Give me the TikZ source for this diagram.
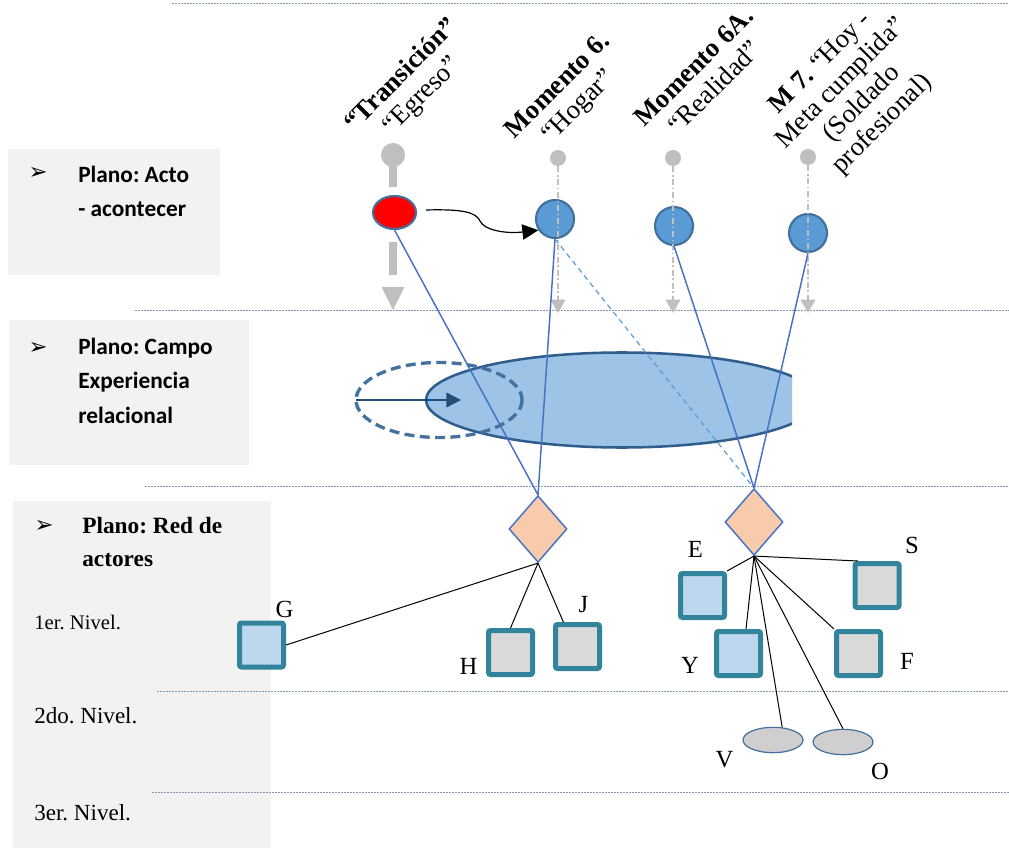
\documentclass[tikz,border=0pt]{standalone}
\usepackage{fontspec}
\setmainfont{Liberation Serif}
\newfontfamily\calib{Carlito}
\newfontfamily\djv{DejaVu Sans}
\usetikzlibrary{shapes.geometric,arrows.meta,calc}
\definecolor{panelgray}{HTML}{F2F2F2}
\definecolor{hl}{HTML}{8497B0}
\definecolor{pingray}{HTML}{BFBFBF}
\definecolor{circfill}{HTML}{5B9BD5}
\definecolor{circdraw}{HTML}{41719C}
\definecolor{bigfill}{HTML}{9DC3E6}
\definecolor{bigdraw}{HTML}{2F5E8E}
\definecolor{dashdraw}{HTML}{44729F}
\definecolor{arrowblue}{HTML}{1F4E79}
\definecolor{blineC}{HTML}{4472C4}
\definecolor{bdashC}{HTML}{5B9BD5}
\definecolor{diamfill}{HTML}{F8CBAD}
\definecolor{sqborder}{HTML}{31849B}
\definecolor{sqlight}{HTML}{BDD7EE}
\definecolor{sqgray}{HTML}{D9D9D9}
\definecolor{ellgray}{HTML}{D0CECE}
\frenchspacing
\begin{document}
\begin{tikzpicture}[x=0.75pt,y=-0.75pt,
  hline/.style={draw=hl, line width=0.7pt, dash pattern=on 1.5pt off 0.75pt},
  ptxt/.style={anchor=base west, inner sep=0, font=\calib\bfseries\fontsize{17.5}{21}\selectfont},
  ttxt/.style={anchor=base west, inner sep=0, font=\bfseries\fontsize{17.5}{21}\selectfont},
  ntxt/.style={anchor=base west, inner sep=0, font=\fontsize{17.3}{21}\selectfont},
  bul/.style={inner sep=0, font=\djv\fontsize{17}{19}\selectfont},
  toplbl/.style={rotate=45, align=center, inner sep=0, font=\fontsize{20}{21.75}\selectfont},
  pinbig/.style={circle, fill=pingray, minimum size=18pt, inner sep=0},
  pinsmall/.style={circle, fill=pingray, minimum size=12pt, inner sep=0},
  pinline/.style={draw=pingray, line width=1.1pt, dash pattern=on 4.5pt off 2pt on 1.2pt off 2pt},
  pintip/.style={-{Triangle[length=10pt,width=11pt]}},
  bcirc/.style={circle, fill=circfill, draw=circdraw, line width=1.6pt, minimum size=28.5pt, inner sep=0},
  diam/.style={diamond, fill=diamfill, draw=blineC, line width=1.1pt, minimum width=43.5pt, minimum height=50pt, inner sep=0},
  sq/.style={rectangle, draw=sqborder, line width=3.75pt, minimum size=33pt, rounded corners=1.5pt, inner sep=0},
  sell/.style={ellipse, fill=ellgray, draw=circdraw, line width=0.9pt, minimum width=45pt, minimum height=19pt, inner sep=0},
  bline/.style={draw=blineC, line width=1.1pt},
  bdash/.style={draw=bdashC, line width=0.9pt, dash pattern=on 4pt off 3pt},
  kline/.style={draw=black, line width=0.75pt},
  lbl/.style={inner sep=0, font=\fontsize{18.5}{20}\selectfont}
]
\useasboundingbox (0,0) rectangle (1009,848);

% panels
\fill[panelgray] (8,149) rectangle (220,275);
\fill[panelgray] (9,320) rectangle (249,465);
\fill[panelgray] (13,501) rectangle (271,848);

% horizontal separators
\draw[hline] (172,3) -- (1009,3);
\draw[hline] (135,310) -- (1009,310);
\draw[hline] (145,486) -- (1009,486);
\draw[hline] (157,691) -- (1009,691);
\draw[hline] (152,792) -- (1009,792);

% panel texts
\node[bul] (b1) at (38,173) {➢};
\node[ptxt] (p1a) at (78,183) {Plano: Acto};
\node[ptxt] (p1b) at (78,217) {- acontecer};
\node[bul] (b2) at (38,348) {➢};
\node[ptxt] (p2a) at (78,354) {Plano: Campo};
\node[ptxt] (p2b) at (78,388) {Experiencia};
\node[ptxt] (p2c) at (78,423) {relacional};
\node[bul] (b3) at (44,526) {➢};
\node[ttxt] (p3a) at (82,533) {Plano: Red de};
\node[ttxt] (p3b) at (82,566) {actores};
\node[ntxt, font=\fontsize{15.5}{19}\selectfont] (n1) at (34,629) {1er. Nivel.};
\node[ntxt] (n2) at (34,723) {2do. Nivel.};
\node[ntxt] (n3) at (34,820) {3er. Nivel.};

% top labels
\node[toplbl] (t0) at (412,86) {\textbf{“Transición”}\\“Egreso”};
\node[toplbl] (t1) at (569,97) {\textbf{Momento 6.}\\“Hogar”};
\node[toplbl] (t2) at (704,77) {\textbf{Momento 6A.}\\“Realidad”};
\node[toplbl] (t3) at (852,94) {\textbf{M 7.} “Hoy -\\Meta cumplida”\\(Soldado\\profesional)};

% big ellipse (clipped)
\begin{scope}
\clip (300,340) rectangle (792,460);
\draw[fill=bigfill, draw=bigdraw, line width=1.9pt] (622,400) ellipse [x radius=196, y radius=47.5];
\end{scope}
\draw[draw=dashdraw, line width=2.5pt, dash pattern=on 7.5pt off 4pt] (439,400) ellipse [x radius=83, y radius=37.5];
\coordinate (ia) at (356,400);
\coordinate (ib) at (461,400);
\draw[draw=arrowblue, line width=1pt, -{Triangle[length=11pt,width=11pt]}] (ia) -- (ib);

% Transicion pin
\node[pinbig] (pin0) at (393,155) {};
\coordinate (s0a) at (393,164);
\coordinate (s0b) at (393,187);
\draw[pingray, line width=6pt] (s0a) -- (s0b);
\coordinate (s0c) at (393,242);
\coordinate (s0d) at (393,275);
\draw[pingray, line width=6pt] (s0c) -- (s0d);
\fill[pingray] (381.5,287) -- (404.5,287) -- (393,310) -- cycle;

% act circles
\node[ellipse, fill=red, draw=circdraw, line width=1.6pt, minimum width=32.25pt, minimum height=24.75pt, inner sep=0] (red) at (394.5,212.5) {};
\node[bcirc] (c1) at (555,219) {};
\node[bcirc] (c2) at (674,226) {};
\node[bcirc] (c3) at (808,233) {};

% small pins and dash-dot arrows
\node[pinsmall] (pin1) at (558,158) {};
\node[pinsmall] (pin2) at (673,158) {};
\node[pinsmall] (pin3) at (808,157) {};
\coordinate (e1) at (558,313);
\coordinate (e2) at (673,313);
\coordinate (e3) at (808,313);
\draw[pinline, pintip] (pin1) -- (e1);
\draw[pinline, pintip] (pin2) -- (e2);
\draw[pinline, pintip] (pin3) -- (e3);

% curved arrow
\coordinate (as) at (426,210);
\draw[line width=0.9pt, -{Triangle[length=12pt,width=11.5pt]}] (as) .. controls (462,209) and (476,212) .. (480,221) .. controls (484,230) and (505,234) .. (c1.214);

% diamonds
\node[diam] (d1) at (538,529) {};
\node[diam] (d2) at (754,522) {};

% blue connectors
\draw[bline] (red.south) -- (d1.north);
\draw[bline] (c1.south) -- (d1.north);
\draw[bdash] (c1.south) -- (d2.north);
\draw[bline] (c2.south) -- (d2.north);
\draw[bline] (c3.south) -- (d2.north);

% actor nodes
\node[sq, fill=sqlight] (G) at (261.5,645) {};
\node[sq, fill=sqgray] (H) at (510.5,652.5) {};
\node[sq, fill=sqgray] (J) at (577.5,646.5) {};
\node[sq, fill=sqlight] (E) at (702.5,595.5) {};
\node[sq, fill=sqgray] (S) at (877,585.5) {};
\node[sq, fill=sqlight] (Y) at (738.5,653.5) {};
\node[sq, fill=sqgray] (F) at (858.5,653.5) {};
\node[sell] (V) at (773,740) {};
\node[sell] (O) at (843,742) {};

% black connectors
\draw[kline] (d1.south) -- (G.east);
\draw[kline] (d1.south) -- (H.north);
\draw[kline] (d1.south) -- (J.120);
\draw[kline] (d2.south) -- (E.45);
\draw[kline] (d2.south) -- (S.128);
\draw[kline] (d2.south) -- (Y.73);
\draw[kline] (d2.south) -- (F.135);
\draw[kline] (d2.south) -- (V.54);
\draw[kline] (d2.south) -- (O.north);

% letter labels
\node[lbl] (lG) at (284.5,609.5) {G};
\node[lbl] (lH) at (468.5,666) {H};
\node[lbl] (lJ) at (583.5,605) {J};
\node[lbl] (lE) at (695.5,549) {E};
\node[lbl] (lS) at (912,545.5) {S};
\node[lbl] (lY) at (690,665.5) {Y};
\node[lbl] (lF) at (907,661.5) {F};
\node[lbl] (lV) at (724.5,759.5) {V};
\node[lbl] (lO) at (880,771) {O};
\end{tikzpicture}
\end{document}
